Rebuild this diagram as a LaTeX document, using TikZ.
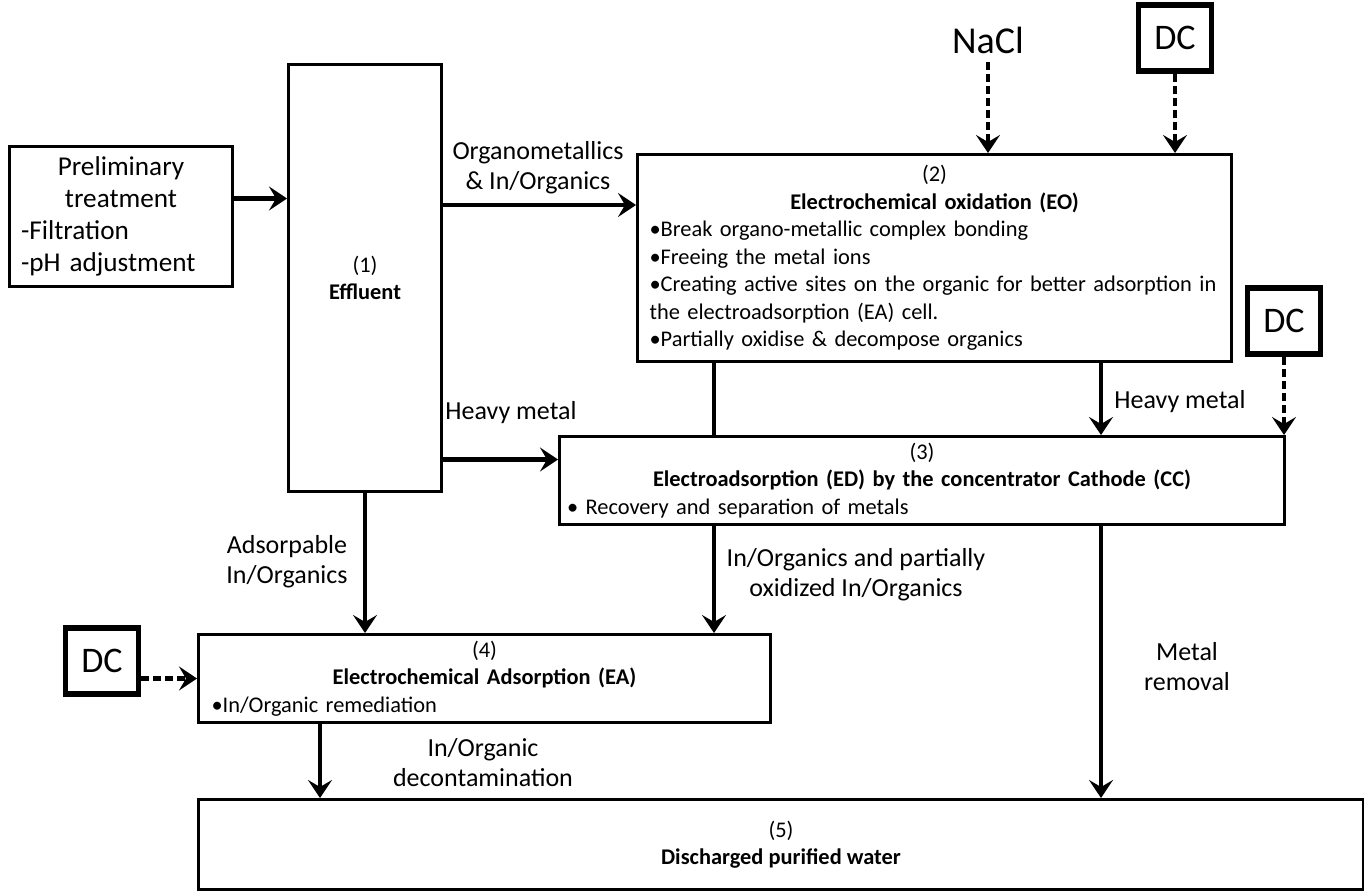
\documentclass[tikz,border=0pt]{standalone}
\usepackage{fontspec}
\setmainfont{Carlito}
\usetikzlibrary{positioning, arrows.meta}
\setlength\parindent{0pt}

\newcommand\lblfont{\fontsize{13}{15}\selectfont}
\newcommand\boxfont{\fontsize{11.2}{13.75}\selectfont}

\tikzset{
  box/.style={draw, line width=1.5pt, inner sep=0pt, anchor=north west, font=\boxfont},
  dcbox/.style={draw, line width=2.8pt, inner sep=0pt, minimum width=36.5pt,
    minimum height=33pt, font=\fontsize{18}{20}\selectfont},
  lbl/.style={font=\lblfont, align=center, inner sep=0pt},
  flow/.style={line width=2.4pt, -{Stealth[length=9pt, width=12pt, inset=3.5pt]}},
  feed/.style={flow, dash pattern=on 4pt off 2pt},
  link/.style={line width=2.4pt}
}

\begin{document}
\begin{tikzpicture}[x=0.5pt, y=-0.5pt]
\useasboundingbox (0,0) rectangle (1364,894);

% process boxes
\node[box, minimum width=111.5pt, minimum height=70pt, text width=100pt,
  align=left, font=\fontsize{13.6}{16}\selectfont] (prelim) at (8,145)
  {{\centering Preliminary\\treatment\par}-Filtration\\-pH adjustment};
\node[box, minimum width=76.5pt, minimum height=213.5pt, align=center] (eff) at (287,63)
  {(1)\\\textbf{Effluent}};
\node[box, minimum width=297pt, minimum height=103.5pt, text width=285pt, align=left] (eo) at (636,153)
  {{\centering (2)\\\textbf{Electrochemical oxidation (EO)}\par}
   •Break organo-metallic complex bonding\\
   •Freeing the metal ions\\
   •Creating active sites on the organic for better adsorption in\\
   the electroadsorption (EA) cell.\\
   •Partially oxidise \& decompose organics};
\node[box, minimum width=362.5pt, minimum height=44pt, text width=355pt, align=left] (ed) at (558,435)
  {{\centering (3)\\\textbf{Electroadsorption (ED) by the concentrator Cathode (CC)}\par}
   • Recovery and separation of metals};
\node[box, minimum width=286pt, minimum height=44pt, text width=273pt, align=left] (ea) at (197,633)
  {{\centering (4)\\\textbf{Electrochemical Adsorption (EA)}\par}
   •In/Organic remediation};
\node[box, minimum width=582.5pt, minimum height=45pt, align=center] (water) at (197,798)
  {(5)\\\textbf{Discharged purified water}};

% inputs
\node[font=\fontsize{19}{21}\selectfont, inner sep=4pt] (nacl) at (988,40) {NaCl};
\node[dcbox] (dca) at (1175,38) {DC};
\node[dcbox] (dcb) at (1284,321) {DC};
\node[dcbox] (dcc) at (102,661) {DC};

% labels
\node[lbl] (lorg) at (538,168) {Organometallics\\\& In/Organics};
\node[lbl] (lhma) at (511,413) {Heavy metal};
\node[lbl] (lhmb) at (1180,402) {Heavy metal};
\node[lbl] (lads) at (287,562) {Adsorpable\\In/Organics};
\node[lbl] (lpox) at (856,575) {In/Organics and partially\\oxidized In/Organics};
\node[lbl] (lmet) at (1187,667) {Metal\\removal};
\node[lbl] (ldec) at (483,763) {In/Organic\\decontamination};

% connectors
\draw[flow] ([yshift=9pt]prelim.east) -- ([yshift=9pt]prelim.east -| eff.west);
\draw[flow] ([yshift=-26pt]eff.north east |- eo.north) -- ([yshift=-26pt]eo.north west);
\draw[flow] ([yshift=10.5pt]ed.west -| eff.east) -- ([yshift=10.5pt]ed.west);
\draw[link] ([xshift=39pt]eo.south west) -- ([xshift=39pt]eo.south west |- ed.north);
\draw[flow] ([xshift=-66pt]eo.south east) -- ([xshift=-66pt]eo.south east |- ed.north);
\draw[flow] (eff.south) -- (eff.south |- ea.north);
\draw[flow] ([xshift=78pt]ed.south west) -- ([xshift=78pt]ed.south west |- ea.north);
\draw[flow] ([xshift=-92.5pt]ed.south east) -- ([xshift=-92.5pt]ed.south east |- water.north);
\draw[flow] ([xshift=61.5pt]ea.south west) -- ([xshift=61.5pt]ea.south west |- water.north);
\draw[feed] (nacl.south) -- (nacl.south |- eo.north);
\draw[feed] (dca.south) -- (dca.south |- eo.north);
\draw[feed] (dcb.south) -- (dcb.south |- ed.north);
\draw[feed] (dcc.east |- ea.west) -- (ea.west);
\end{tikzpicture}
\end{document}
